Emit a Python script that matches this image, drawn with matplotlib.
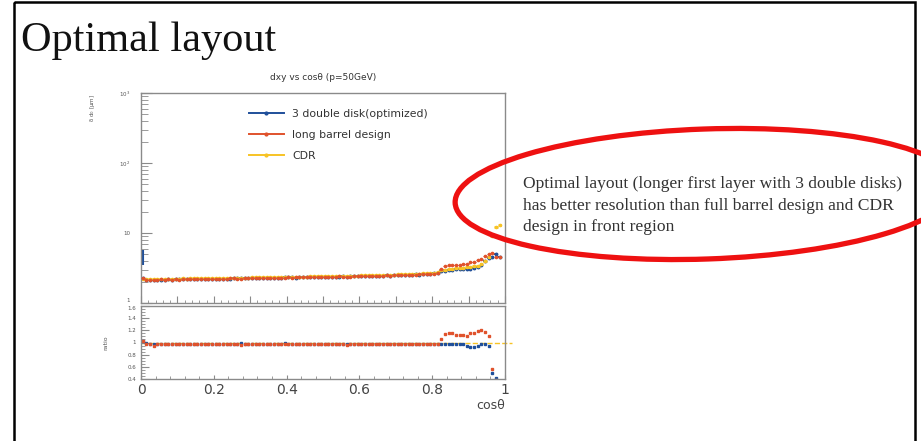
import numpy as np
import matplotlib
matplotlib.use("Agg")
import matplotlib.pyplot as plt
from matplotlib.patches import Ellipse, Rectangle
from matplotlib.lines import Line2D

# bin centres in cos(theta)
cos_bins = np.arange(99) * 0.01 + 0.005
half_bin = 0.005

# CDR resolution (um)
cdr = [2.20, 2.18, 2.20, 2.21, 2.20, 2.22, 2.21, 2.22, 2.23, 2.22,
       2.23, 2.24, 2.23, 2.24, 2.25, 2.24, 2.25, 2.26, 2.25, 2.26,
       2.27, 2.27, 2.28, 2.28, 2.29, 2.29, 2.30, 2.30, 2.31, 2.31,
       2.32, 2.32, 2.33, 2.33, 2.34, 2.34, 2.35, 2.35, 2.36, 2.36,
       2.37, 2.37, 2.38, 2.38, 2.39, 2.39, 2.40, 2.40, 2.41, 2.41,
       2.42, 2.42, 2.43, 2.43, 2.44, 2.45, 2.45, 2.46, 2.47, 2.47,
       2.48, 2.49, 2.49, 2.50, 2.51, 2.52, 2.52, 2.53, 2.54, 2.55,
       2.56, 2.57, 2.58, 2.59, 2.60, 2.62, 2.63, 2.65, 2.67, 2.69,
       2.72, 2.76, 2.95, 3.00, 3.04, 3.08, 3.12, 3.16, 3.20, 3.25,
       3.30, 3.36, 3.42, 3.55, 4.00, 4.60, 9.00, 12.0, 13.0]

# ratio to CDR
ratio_long = [1.03, 0.98, 0.97, 0.95, 0.97, 0.98, 0.97, 0.98, 0.97, 0.98,
              0.97, 0.98, 0.98, 0.97, 0.98, 0.97, 0.98, 0.98, 0.97, 0.98,
              0.97, 0.98, 0.98, 0.97, 0.98, 0.98, 0.97, 0.96, 0.97, 0.98,
              0.97, 0.98, 0.97, 0.98, 0.98, 0.97, 0.98, 0.97, 0.98, 0.97,
              0.98, 0.97, 0.98, 0.98, 0.97, 0.98, 0.97, 0.98, 0.98, 0.97,
              0.98, 0.97, 0.98, 0.97, 0.98, 0.97, 0.96, 0.97, 0.98, 0.97,
              0.98, 0.97, 0.98, 0.98, 0.97, 0.98, 0.97, 0.98, 0.97, 0.98,
              0.98, 0.97, 0.98, 0.97, 0.98, 0.97, 0.98, 0.97, 0.98, 0.98,
              0.97, 0.98, 1.05, 1.14, 1.16, 1.15, 1.13, 1.12, 1.12, 1.10,
              1.16, 1.15, 1.19, 1.21, 1.18, 1.10, 0.57, 0.38, 0.35]
ratio_opt = [1.02, 0.99, 0.98, 0.97, 0.98, 0.97, 0.98, 0.98, 0.97, 0.98,
             0.98, 0.97, 0.98, 0.98, 0.97, 0.98, 0.98, 0.97, 0.98, 0.98,
             0.98, 0.97, 0.98, 0.98, 0.97, 0.98, 0.98, 0.99, 0.98, 0.97,
             0.98, 0.98, 0.97, 0.98, 0.98, 0.98, 0.97, 0.98, 0.98, 0.99,
             0.98, 0.98, 0.97, 0.98, 0.98, 0.98, 0.97, 0.98, 0.98, 0.98,
             0.97, 0.98, 0.98, 0.98, 0.97, 0.98, 0.97, 0.98, 0.98, 0.98,
             0.97, 0.98, 0.98, 0.98, 0.97, 0.98, 0.98, 0.98, 0.97, 0.98,
             0.98, 0.98, 0.97, 0.98, 0.98, 0.98, 0.97, 0.98, 0.98, 0.98,
             0.98, 0.98, 0.98, 0.97, 0.97, 0.97, 0.97, 0.97, 0.97, 0.95,
             0.93, 0.93, 0.94, 0.98, 0.98, 0.95, 0.50, 0.42, 0.35]

# first-bin spread of the optimized layout (um)
opt_first_bin_range = (3.5, 5.7)

labels = ["3 double disk(optimized)", "long barrel design", "CDR"]
colors = ["#1f4f9a", "#e0522c", "#f7c325"]

slide_title = "Optimal layout"
plot_title = "dxy vs cos\u03b8 (p=50GeV)"
note_lines = ["Optimal layout (longer first layer with 3 double disks)",
              "has better resolution than full barrel design and CDR",
              "design in front region"]

cdr = np.array(cdr)
long_barrel = cdr * np.array(ratio_long)
optimized = cdr * np.array(ratio_opt)

W, H = 921, 441
fig = plt.figure(figsize=(W / 100, H / 100), dpi=100)
fig.patch.set_facecolor("white")

def px_rect(x0, y0, x1, y1):
    return [x0 / W, 1 - y1 / H, (x1 - x0) / W, (y1 - y0) / H]

frame_col = "#8a8a8a"
ax = fig.add_axes(px_rect(141, 93, 505, 303))
axr = fig.add_axes(px_rect(141, 306, 505, 379))

# upper panel: markers with horizontal bin-width bars (ROOT style)
ax.errorbar(cos_bins, optimized, xerr=half_bin, fmt="o", color=colors[0], ms=1.8,
            elinewidth=1.4, zorder=1)
ax.errorbar(cos_bins, cdr, xerr=half_bin, fmt="o", color=colors[2], ms=1.6,
            elinewidth=1.8, zorder=2)
ax.errorbar(cos_bins, long_barrel, xerr=half_bin, fmt="o", color=colors[1], ms=1.6,
            elinewidth=0.8, zorder=3)
ax.vlines(cos_bins[0], *opt_first_bin_range, color=colors[0], lw=1.5)
ax.set_yscale("log")
ax.set_ylim(1, 1000)
ax.set_xlim(0, 1)
ax.set_yticks([1, 10, 100, 1000])
ax.set_yticklabels(["1", "10", "10$^2$", "10$^3$"], fontsize=4, color="#555")
ax.get_yticklabels()[0].set_va("bottom")
ax.set_xticklabels([])
ax.set_xticks(np.arange(0, 1.01, 0.1))
ax.set_xticks(np.arange(0, 1.01, 0.02), minor=True)
ax.tick_params(axis="both", which="both", direction="in", color=frame_col)
ax.tick_params(axis="y", which="major", length=8, pad=8)
ax.tick_params(axis="y", which="minor", length=5)
ax.tick_params(axis="x", which="major", length=5)
ax.tick_params(axis="x", which="minor", length=2.5)
ax.set_ylabel("\u03b4 d$_0$ [\u03bcm]", fontsize=4, color="#555", labelpad=8)
ax.yaxis.set_label_coords(-0.12, 0.93)
ax.set_title(plot_title, fontsize=6.5, color="#333", pad=9)
handles = [Line2D([], [], color=c, lw=1.4, marker="o", ms=2) for c in colors]
leg = ax.legend(handles, labels, loc="upper left",
                bbox_to_anchor=(0.27, 0.97), frameon=False,
                fontsize=7.8, handlelength=3.2, labelspacing=1.0,
                labelcolor="#333")

# ratio panel
axr.plot(cos_bins, ratio_opt, "s", color=colors[0], ms=1.7)
axr.plot(cos_bins, ratio_long, "s", color=colors[1], ms=1.7)
axr.axhline(1.0, color=colors[2], lw=1, ls="--", zorder=0, xmax=1.02, clip_on=False)
axr.set_xlim(0, 1)
axr.set_ylim(0.4, 1.6)
axr.set_yticks(np.arange(0.4, 1.61, 0.2))
axr.set_yticklabels(["0.4", "0.6", "0.8", "1", "1.2", "1.4", "1.6"], fontsize=4, color="#555")
axr.get_yticklabels()[-1].set_va("top")
axr.set_xticks(np.arange(0, 1.01, 0.2))
axr.set_xticklabels(["0", "0.2", "0.4", "0.6", "0.8", "1"], fontsize=10, color="#444")
axr.set_xticks(np.arange(0, 1.01, 0.04), minor=True)
axr.set_yticks(np.arange(0.4, 1.61, 0.05), minor=True)
axr.tick_params(axis="both", which="both", direction="in", color=frame_col)
axr.tick_params(axis="x", which="major", length=3, pad=3)
axr.tick_params(axis="y", which="major", length=6)
axr.tick_params(axis="y", which="minor", length=3)
axr.set_ylabel("ratio", fontsize=4.5, color="#555")
axr.yaxis.set_label_coords(-0.09, 0.5)
axr.set_xlabel("cos\u03b8", fontsize=9, color="#444", labelpad=4)
axr.xaxis.set_label_coords(0.96, -0.27)

for a in (ax, axr):
    for s in a.spines.values():
        s.set_color(frame_col)
        s.set_linewidth(1.0)

# slide overlay in pixel units
ov = fig.add_axes([0, 0, 1, 1], zorder=10)
ov.set_xlim(0, W)
ov.set_ylim(H, 0)
ov.axis("off")
ov.patch.set_alpha(0)
ov.add_patch(Rectangle((14, 2), 901, 460, fill=False, ec="black", lw=1.8, clip_on=False))
ov.text(21, 51, slide_title, family="Liberation Serif", fontsize=30.5, color="#111", va="baseline")
for i, line in enumerate(note_lines):
    ov.text(523, 188 + i * 21.5, line, family="Liberation Serif", fontsize=12.6,
            color="#333", va="baseline")
ov.add_patch(Ellipse((706, 194), 502, 130, angle=-2, fill=False, ec="#ee1111",
                     lw=3.8, clip_on=False))

fig.savefig("out.png", dpi=100, facecolor="white")
